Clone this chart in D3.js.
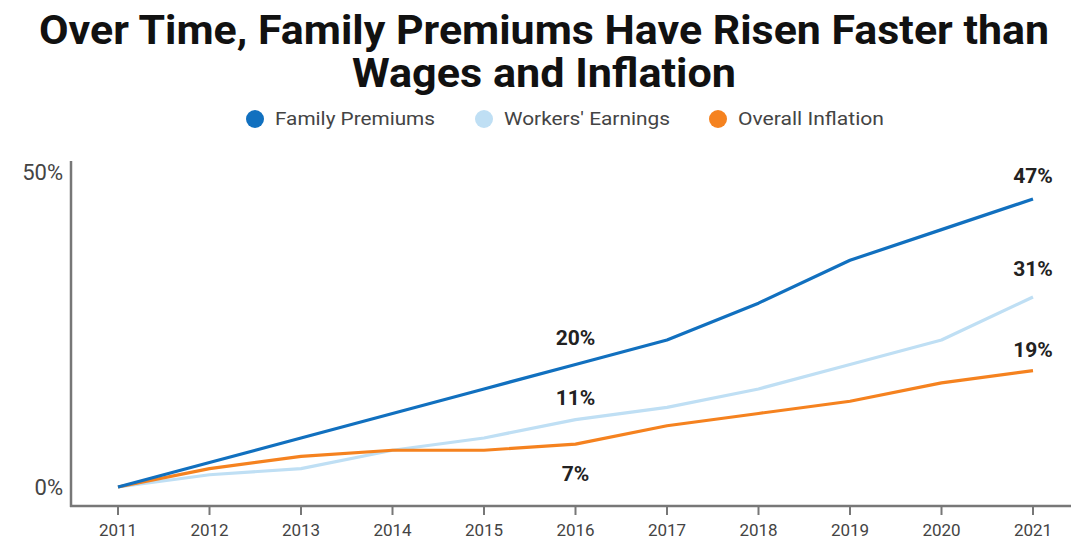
<!DOCTYPE html>
<html>
<head>
<meta charset="utf-8">
<script src="https://cdn.jsdelivr.net/npm/d3@7"></script>
<style>
  body { margin: 0; background: #fff; }
  svg { display: block; font-family: Roboto, "DejaVu Sans", sans-serif; }
</style>
</head>
<body>
<div id="chart"></div>
<script>
const years = [2011, 2012, 2013, 2014, 2015, 2016, 2017, 2018, 2019, 2020, 2021];
const familyPremiums = [0, 4, 8, 12, 16, 20, 24, 30, 37, 42, 47];
const workersEarnings = [0, 2, 3, 6, 8, 11, 13, 16, 20, 24, 31];
const overallInflation = [0, 3, 5, 6, 6, 7, 10, 12, 14, 17, 19];
const yTicks = [0, 50];

const seriesNames = ["Family Premiums", "Workers' Earnings", "Overall Inflation"];
const seriesColors = ["#1170bf", "#bfdff4", "#f5821f"];
const seriesValues = [familyPremiums, workersEarnings, overallInflation];

// callout labels: series index, year
const callouts = [
  { s: 0, year: 2016, dy: -27 },
  { s: 1, year: 2016, dy: -22 },
  { s: 2, year: 2016, dy: 30 },
  { s: 0, year: 2021, dy: -23 },
  { s: 1, year: 2021, dy: -28 },
  { s: 2, year: 2021, dy: -21 }
];

const width = 1071, height = 540;
const svg = d3.select("#chart").append("svg").attr("width", width).attr("height", height);

// Title
const title = svg.append("g").style("font-weight", "bold").style("fill", "#111");
title.append("text")
  .attr("x", 544).attr("y", 44)
  .attr("text-anchor", "middle")
  .attr("textLength", 1010).attr("lengthAdjust", "spacingAndGlyphs")
  .style("font-size", "40px")
  .text("Over Time, Family Premiums Have Risen Faster than");
title.append("text")
  .attr("x", 544).attr("y", 87)
  .attr("text-anchor", "middle")
  .attr("textLength", 384).attr("lengthAdjust", "spacingAndGlyphs")
  .style("font-size", "40px")
  .text("Wages and Inflation");

// Legend
const legendX = [255, 484, 718];
const legendLen = [160, 166, 146];
const legend = svg.append("g");
seriesNames.forEach((name, i) => {
  legend.append("circle")
    .attr("cx", legendX[i]).attr("cy", 119).attr("r", 9)
    .style("fill", seriesColors[i]);
  legend.append("text")
    .attr("x", legendX[i] + 20).attr("y", 119)
    .attr("dy", "0.35em")
    .attr("textLength", legendLen[i]).attr("lengthAdjust", "spacingAndGlyphs")
    .style("font-size", "18px")
    .style("fill", "#444")
    .text(name);
});

// Scales
const x = d3.scaleLinear().domain([2011, 2021]).range([118, 1033]);
const y = d3.scaleLinear().domain([0, 47]).range([487, 199]);

// Axes
const axisColor = "#777";
svg.append("line")
  .attr("x1", 71).attr("x2", 71).attr("y1", 161).attr("y2", 507)
  .style("stroke", axisColor).style("stroke-width", 2.5);
svg.append("line")
  .attr("x1", 70).attr("x2", width).attr("y1", 506).attr("y2", 506)
  .style("stroke", axisColor).style("stroke-width", 2.5);

const xAxis = svg.append("g");
years.forEach(yr => {
  xAxis.append("line")
    .attr("x1", x(yr)).attr("x2", x(yr)).attr("y1", 506).attr("y2", 515)
    .style("stroke", axisColor).style("stroke-width", 2);
  xAxis.append("text")
    .attr("x", x(yr)).attr("y", 530)
    .attr("dy", "0.35em")
    .attr("text-anchor", "middle")
    .style("font-size", "17px")
    .style("fill", "#444")
    .text(yr);
});

svg.selectAll(".ytick")
  .data(yTicks)
  .join("text")
  .attr("class", "ytick")
  .attr("x", 63)
  .attr("y", d => d === 0 ? y(d) : 172)
  .attr("dy", "0.35em")
  .attr("text-anchor", "end")
  .style("font-size", "22px")
  .style("fill", "#444")
  .text(d => d + "%");

// Lines (draw light blue, orange, then dark blue)
const line = d3.line()
  .x((d, i) => x(years[i]))
  .y(d => y(d));

[1, 2, 0].forEach(i => {
  svg.append("path")
    .datum(seriesValues[i])
    .attr("d", line)
    .style("fill", "none")
    .style("stroke", seriesColors[i])
    .style("stroke-width", 3.2)
    .style("stroke-linejoin", "round");
});

// Callouts
callouts.forEach(c => {
  const v = seriesValues[c.s][years.indexOf(c.year)];
  svg.append("text")
    .attr("x", x(c.year)).attr("y", y(v) + c.dy)
    .attr("dy", "0.35em")
    .attr("text-anchor", "middle")
    .style("font-size", "21px")
    .style("font-weight", "bold")
    .style("fill", "#222")
    .text(v + "%");
});
</script>
</body>
</html>
